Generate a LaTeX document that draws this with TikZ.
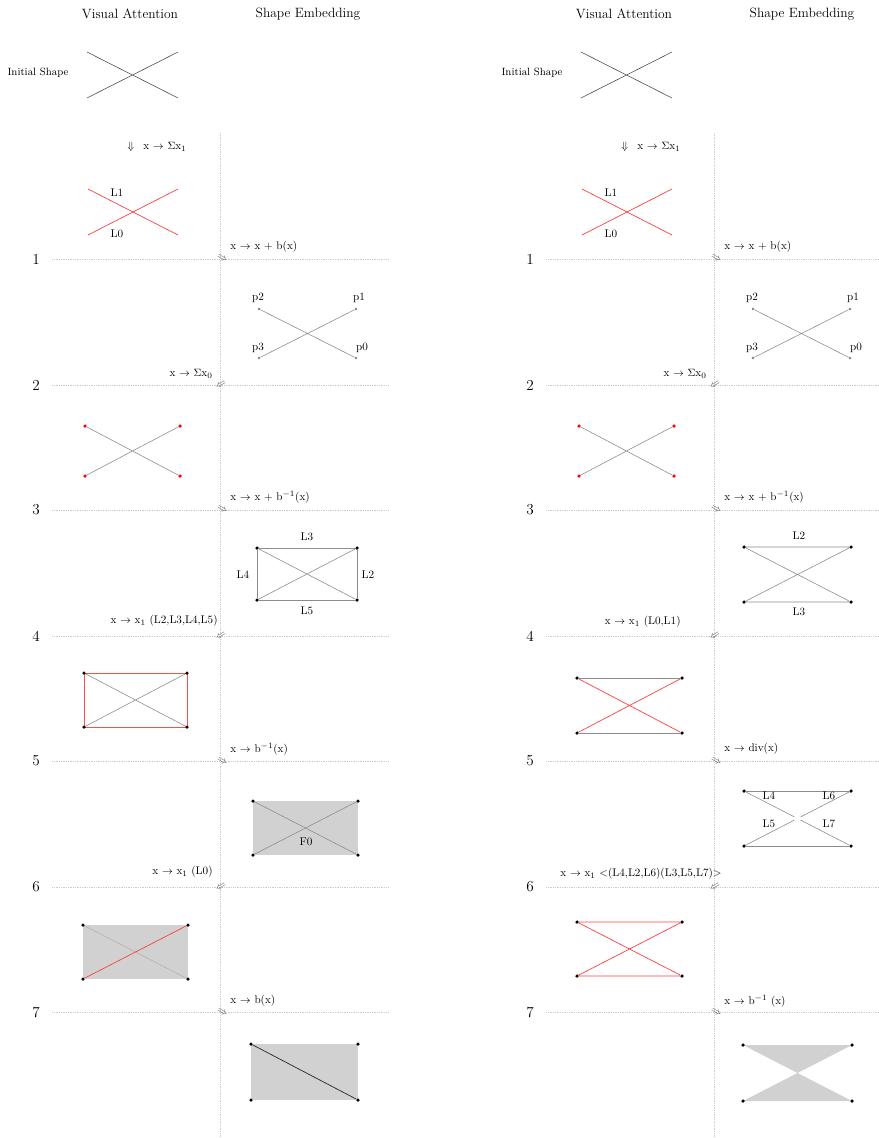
\documentclass[tikz,border=0pt]{standalone}
\usepackage{amsmath}
\usepackage{amssymb}
\begin{document}
\begin{tikzpicture}[x=0.03cm,y=-0.03cm,
  guide/.style={gray!40,densely dotted,line width=0.5pt},
  seg/.style={gray!90,line width=0.5pt},
  rseg/.style={red!75,line width=0.6pt},
  pseg/.style={red!70,line width=0.6pt},
  vtx/.style={circle,fill=black,inner sep=0pt,minimum size=3pt},
  rvtx/.style={circle,fill=red,inner sep=0pt,minimum size=3pt},
  gvtx/.style={circle,fill=gray,inner sep=0pt,minimum size=2.4pt},
  head/.style={font=\fontsize{11.5}{13}\selectfont},
  num/.style={font=\fontsize{13}{15}\selectfont},
  lbl/.style={font=\fontsize{9.5}{11}\selectfont,inner sep=1pt},
  hop/.style={font=\small,inner sep=0pt,gray!70!black},
  face/.style={fill=black!18}]
\useasboundingbox (0,0) rectangle (879,1138);
% parts common to both panels
\foreach \dx/\k in {0/a,494/b}{
  \begin{scope}[shift={(\dx,0)}]
    \node[head] (va\k) at (130,14) {Visual Attention};
    \node[head] (se\k) at (308,14) {Shape Embedding};
    \node[lbl,font=\fontsize{9}{11}\selectfont] (is\k) at (38,73) {Initial Shape};
    % initial shape
    \coordinate (i1\k) at (87,52); \coordinate (i2\k) at (178,52);
    \coordinate (i3\k) at (87,98); \coordinate (i4\k) at (178,98);
    \draw[seg,gray!60!black] (i1\k) -- (i4\k) (i3\k) -- (i2\k);
    % rows
    \draw[guide] (220,133) -- (220,1138);
    \foreach \n/\y in {1/259,2/385,3/510,4/636,5/761,6/887,7/1012}{
      \draw[guide] (52,\y) -- (388,\y);
      \node[num] at (36,\y) {\n};
    }
    \foreach \y in {259,510,761,1012}
      \node[hop,rotate=-30] at (222,\y) {$\Rightarrow$};
    \foreach \y in {385,636,887}
      \node[hop,rotate=30] at (221,\y) {$\Leftarrow$};
    \node[lbl] (d0\k) at (131,147) {$\Downarrow$};
    \node[lbl,anchor=west] (t0\k) at (142,147) {x $\rightarrow$ $\Sigma$x$_1$};
    % lines L0, L1
    \coordinate (r1\k) at (88,189); \coordinate (r2\k) at (178,189);
    \coordinate (r3\k) at (88,235); \coordinate (r4\k) at (178,235);
    \draw[rseg] (r1\k) -- (r4\k) (r3\k) -- (r2\k);
    \node[lbl] at (117,193) {L1};
    \node[lbl] at (117,234) {L0};
    \node[lbl,anchor=west] (t1\k) at (229,247) {x $\rightarrow$ x + b(x)};
    % points p0..p3
    \node[gvtx] (p2\k) at (259,309) {}; \node[gvtx] (p1\k) at (356,309) {};
    \node[gvtx] (p3\k) at (259,358) {}; \node[gvtx] (p0\k) at (356,358) {};
    \draw[seg] (p2\k) -- (p0\k) (p3\k) -- (p1\k);
    \node[lbl] at (258,298) {p2}; \node[lbl] at (359,298) {p1};
    \node[lbl] at (258,348) {p3}; \node[lbl] at (362,348) {p0};
    \node[lbl,anchor=east] (t2\k) at (214,374) {x $\rightarrow$ $\Sigma$x$_0$};
    % red end points
    \node[rvtx] (q1\k) at (85,426) {}; \node[rvtx] (q2\k) at (180,426) {};
    \node[rvtx] (q3\k) at (85,476) {}; \node[rvtx] (q4\k) at (180,476) {};
    \draw[seg] (q1\k) -- (q4\k) (q3\k) -- (q2\k);
    \node[lbl,anchor=west] (t3\k) at (229,497) {x $\rightarrow$ x + b$^{-1}$(x)};
  \end{scope}
}
% left panel, steps 3 to 7
\node[vtx] (a31) at (257,548) {}; \node[vtx] (a32) at (357,548) {};
\node[vtx] (a33) at (357,600) {}; \node[vtx] (a34) at (257,600) {};
\draw[seg] (a31) -- (a32) -- (a33) -- (a34) -- (a31);
\draw[seg] (a31) -- (a33) (a34) -- (a32);
\node[lbl] at (307,537) {L3}; \node[lbl] at (307,611) {L5};
\node[lbl] at (243,575) {L4}; \node[lbl] at (368,575) {L2};
\node[lbl,anchor=east] (t4a) at (219,621) {x $\rightarrow$ x$_1$ (L2,L3,L4,L5)};
\coordinate (a41) at (84,673); \coordinate (a42) at (187,673);
\coordinate (a43) at (187,727); \coordinate (a44) at (84,727);
\draw[seg] (a41) -- (a43) (a44) -- (a42);
\draw[pseg] (a41) rectangle (a43);
\foreach \c in {a41,a42,a43,a44} \node[vtx] at (\c) {};
\node[lbl,anchor=west] (t5a) at (229,749) {x $\rightarrow$ b$^{-1}$(x)};
\fill[face] (253,801) rectangle (358,855);
\node[vtx] (a51) at (253,801) {}; \node[vtx] (a52) at (358,801) {};
\node[vtx] (a53) at (358,855) {}; \node[vtx] (a54) at (253,855) {};
\draw[seg] (a51) -- (a53) (a54) -- (a52);
\node[lbl] at (306,842) {F0};
\node[lbl,anchor=east] (t6a) at (214,872) {x $\rightarrow$ x$_1$ (L0)};
\fill[face] (83,925) rectangle (188,979);
\node[vtx] (a61) at (83,925) {}; \node[vtx] (a62) at (188,925) {};
\node[vtx] (a63) at (188,979) {}; \node[vtx] (a64) at (83,979) {};
\draw[seg,gray!60] (a61) -- (a63);
\draw[rseg] (a64) -- (a62);
\node[lbl,anchor=west] (t7a) at (229,1001) {x $\rightarrow$ b(x)};
\fill[face] (251,1044) rectangle (358,1100);
\node[vtx] (a71) at (251,1044) {}; \node[vtx] (a72) at (358,1044) {};
\node[vtx] (a73) at (358,1100) {}; \node[vtx] (a74) at (251,1100) {};
\draw[black!85,line width=0.6pt] (a71) -- (a73);
% right panel, steps 3 to 7
\node[vtx] (b31) at (744,547) {}; \node[vtx] (b32) at (851,547) {};
\node[vtx] (b33) at (851,602) {}; \node[vtx] (b34) at (744,602) {};
\draw[seg] (b31) -- (b32) (b34) -- (b33) (b31) -- (b33) (b34) -- (b32);
\node[lbl] at (799,536) {L2}; \node[lbl] at (799,612) {L3};
\node[lbl,anchor=east] (t4b) at (682,622) {x $\rightarrow$ x$_1$ (L0,L1)};
\node[vtx] (b41) at (577,678) {}; \node[vtx] (b42) at (682,678) {};
\node[vtx] (b43) at (682,733) {}; \node[vtx] (b44) at (577,733) {};
\draw[seg] (b41) -- (b42) (b44) -- (b43);
\draw[rseg] (b41) -- (b43) (b44) -- (b42);
\node[lbl,anchor=west] (t5b) at (723,749) {x $\rightarrow$ div(x)};
\node[vtx] (b51) at (744,791) {}; \node[vtx] (b52) at (851,791) {};
\node[vtx] (b53) at (851,846) {}; \node[vtx] (b54) at (744,846) {};
\coordinate (b5c) at (797.5,818.5);
\draw[seg] (b51) -- (b52) (b54) -- (b53);
\draw[seg,shorten >=3pt] (b51) -- (b5c); \draw[seg,shorten >=3pt] (b52) -- (b5c);
\draw[seg,shorten >=3pt] (b54) -- (b5c); \draw[seg,shorten >=3pt] (b53) -- (b5c);
\node[lbl] at (769,796) {L4}; \node[lbl] at (829,796) {L6};
\node[lbl] at (769,824) {L5}; \node[lbl] at (829,824) {L7};
\node[lbl] (t6b) at (641,874) {x $\rightarrow$ x$_1$ <(L4,L2,L6)(L3,L5,L7)>};
\node[vtx] (b61) at (577,922) {}; \node[vtx] (b62) at (682,922) {};
\node[vtx] (b63) at (682,976) {}; \node[vtx] (b64) at (577,976) {};
\draw[rseg] (b61) -- (b62) (b64) -- (b63) (b61) -- (b63) (b64) -- (b62);
\node[lbl,anchor=west] (t7b) at (723,1001) {x $\rightarrow$ b$^{-1}$ (x)};
\fill[face] (743,1045) -- (852,1045) -- (743,1101) -- (852,1101) -- cycle;
\node[vtx] (b71) at (743,1045) {}; \node[vtx] (b72) at (852,1045) {};
\node[vtx] (b73) at (852,1101) {}; \node[vtx] (b74) at (743,1101) {};
\end{tikzpicture}
\end{document}
